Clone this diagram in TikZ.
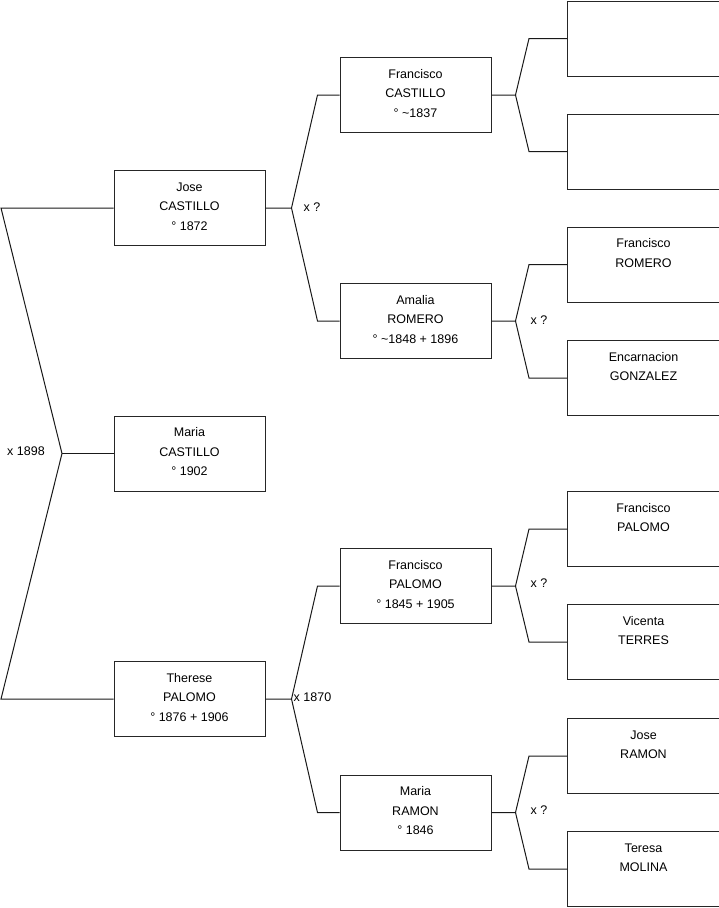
\documentclass[tikz,border=0pt]{standalone}
\usepackage{fontspec}
\setmainfont{Liberation Sans}
\newcommand{\lastdp}{\rule[-3.5pt]{0pt}{3.5pt}}
\begin{document}
\begin{tikzpicture}[x=1pt,y=-1pt,
  person/.style={draw=black!85, line width=1pt, rectangle, minimum width=151pt, minimum height=75pt,
    inner sep=0pt, align=center, font=\fontsize{12.5}{19.5}\selectfont},
  lbl/.style={font=\fontsize{12.5}{15}\selectfont, inner sep=0pt, anchor=west},
  link/.style={draw=black!90, line width=1pt}]
\useasboundingbox (0,0) rectangle (719,908);
% grandparents column
\node[person, minimum width=152pt] (g1) at (643.5,38.5) {};
\node[person, minimum width=152pt] (g2) at (643.5,151.5) {};
\node[person, minimum width=152pt] (g3) at (643.5,264.5) {Francisco\\ROMERO\\\lastdp};
\node[person, minimum width=152pt] (g4) at (643.5,378) {Encarnacion\\GONZALEZ\\\lastdp};
\node[person, minimum width=152pt] (g5) at (643.5,529) {Francisco\\PALOMO\\\lastdp};
\node[person, minimum width=152pt] (g6) at (643.5,642) {Vicenta\\TERRES\\\lastdp};
\node[person, minimum width=152pt] (g7) at (643.5,756) {Jose\\RAMON\\\lastdp};
\node[person, minimum width=152pt] (g8) at (643.5,869) {Teresa\\MOLINA\\\lastdp};
% parents column
\node[person] (p1) at (415.5,95) {Francisco\\CASTILLO\\° \textasciitilde1837\lastdp};
\node[person] (p2) at (415.5,321) {Amalia\\ROMERO\\° \textasciitilde1848 + 1896\lastdp};
\node[person] (p3) at (415.5,586) {Francisco\\PALOMO\\° 1845 + 1905\lastdp};
\node[person] (p4) at (415.5,812.5) {Maria\\RAMON\\° 1846\lastdp};
% children column
\node[person] (c1) at (189.5,208) {Jose\\CASTILLO\\° 1872\lastdp};
\node[person] (c0) at (189.5,453.5) {Maria\\CASTILLO\\° 1902\lastdp};
\node[person] (c2) at (189.5,699) {Therese\\PALOMO\\° 1876 + 1906\lastdp};
% forks to grandparents
\foreach \p/\a/\b in {p1/g1/g2, p2/g3/g4, p3/g5/g6, p4/g7/g8}{
  \coordinate (f\p) at ([xshift=24pt]\p.east);
  \draw[link] (\p.east) -- (f\p) -- ([xshift=-38pt]\a.west) -- (\a.west);
  \draw[link] (f\p) -- ([xshift=-38pt]\b.west) -- (\b.west);
}
% forks to parents
\coordinate (fc1) at ([xshift=26pt]c1.east);
\draw[link] (c1.east) -- (fc1) -- ([xshift=-22pt]p1.west) -- (p1.west);
\draw[link] (fc1) -- ([xshift=-22pt]p2.west) -- (p2.west);
\coordinate (fc2) at ([xshift=26pt]c2.east);
\draw[link] (c2.east) -- (fc2) -- ([xshift=-22pt]p3.west) -- (p3.west);
\draw[link] (fc2) -- ([xshift=-22pt]p4.west) -- (p4.west);
% left fork
\coordinate (a1) at (1,208);
\coordinate (a2) at (1,699);
\coordinate (m) at (62,453.5);
\draw[link] (c1.west) -- (a1) -- (m) -- (a2) -- (c2.west);
\draw[link] (m) -- (c0.west);
% marriage labels
\node[lbl] (l0) at (7,451) {x 1898};
\node[lbl] (l1) at (303.5,207) {x ?};
\node[lbl] (l2) at (293.5,697.5) {x 1870};
\node[lbl] (l3) at (530.5,320) {x ?};
\node[lbl] (l4) at (530.5,583) {x ?};
\node[lbl] (l5) at (530.5,810) {x ?};
\end{tikzpicture}
\end{document}
